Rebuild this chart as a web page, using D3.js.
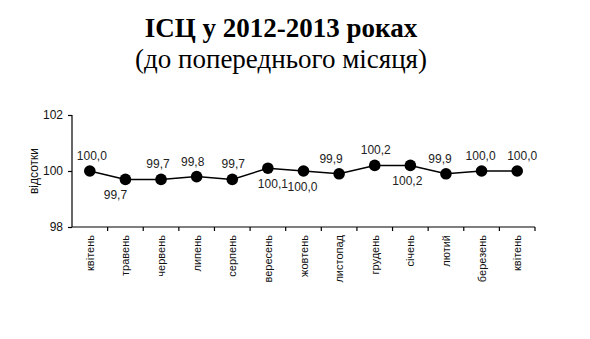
<!DOCTYPE html>
<html>
<head>
<meta charset="utf-8">
<script src="https://cdn.jsdelivr.net/npm/d3@7"></script>
<style>
  html, body { margin: 0; padding: 0; background: #fff; }
  svg { display: block; }
</style>
</head>
<body>
<svg id="chart" width="590" height="339"></svg>
<script>
// Monthly CPI, April 2012 – April 2013 (previous month = 100)
const months = ["квітень", "травень", "червень", "липень", "серпень", "вересень",
  "жовтень", "листопад", "грудень", "січень", "лютий", "березень", "квітень"];
const cpi = [100.0, 99.7, 99.7, 99.8, 99.7, 100.1, 100.0, 99.9, 100.2, 100.2, 99.9, 100.0, 100.0];
const yTicks = [98, 100, 102];
// where each value label sits relative to its marker
const labelSide = ["above", "below", "above", "above", "above", "below", "below",
  "above", "above", "below", "above", "above", "above"];
const labelNudge = [2, -10, -3, -4, 1, 5, -1, -8, 1, -3, -6, -1, 5];

const svg = d3.select("#chart");
const margin = { left: 72, right: 55, top: 115, bottom: 112 };
const W = 590, H = 339;

const x = d3.scaleBand().domain(d3.range(months.length))
  .range([margin.left, W - margin.right]).padding(0);
const y = d3.scaleLinear().domain([98, 102]).range([H - margin.bottom, margin.top]);

// Title
svg.append("text")
  .attr("x", 281).attr("y", 37)
  .attr("text-anchor", "middle")
  .attr("font-family", "'Liberation Serif', 'Times New Roman', serif")
  .attr("font-weight", "bold").attr("font-size", 27)
  .text("ІСЦ у 2012-2013 роках");
svg.append("text")
  .attr("x", 281).attr("y", 68)
  .attr("text-anchor", "middle")
  .attr("font-family", "'Liberation Serif', 'Times New Roman', serif")
  .attr("font-size", 27)
  .text("(до попереднього місяця)");

const axisFont = "'Liberation Sans', Arial, sans-serif";

// Y axis
const yAxis = svg.append("g")
  .attr("transform", `translate(${margin.left},0)`)
  .call(d3.axisLeft(y).tickValues(yTicks).tickSize(4).tickPadding(5).tickFormat(d3.format("d")));
yAxis.select(".domain").attr("stroke", "#000").attr("stroke-width", 1.2)
  .attr("d", `M0,${y(98)}V${y(102)}`);
yAxis.selectAll(".tick line").attr("stroke", "#000").attr("stroke-width", 1.2);
yAxis.selectAll(".tick text").attr("font-family", axisFont).attr("font-size", 12).attr("fill", "#111");

// Y axis title
svg.append("text")
  .attr("transform", `translate(38,${(y(98) + y(102)) / 2}) rotate(-90)`)
  .attr("text-anchor", "middle")
  .attr("font-family", axisFont).attr("font-size", 12).attr("fill", "#111")
  .text("відсотки");

// X axis: ticks at category boundaries
const xAxisG = svg.append("g").attr("transform", `translate(0,${y(98)})`);
xAxisG.append("line")
  .attr("x1", margin.left).attr("x2", W - margin.right)
  .attr("stroke", "#000").attr("stroke-width", 1.2);
const boundaries = d3.range(months.length + 1).map(i =>
  i < months.length ? x(i) : x(months.length - 1) + x.bandwidth());
xAxisG.selectAll("line.tk").data(boundaries.slice(1)).join("line")
  .attr("class", "tk")
  .attr("x1", d => d).attr("x2", d => d)
  .attr("y1", 0).attr("y2", 4)
  .attr("stroke", "#000").attr("stroke-width", 1.2);
xAxisG.selectAll("text").data(months).join("text")
  .attr("transform", (d, i) => `translate(${x(i) + x.bandwidth() / 2 + 4},8) rotate(-90)`)
  .attr("text-anchor", "end")
  .attr("font-family", axisFont).attr("font-size", 11).attr("fill", "#111")
  .text(d => d);

// Line
const cx = i => x(i) + x.bandwidth() / 2;
svg.append("path")
  .datum(cpi)
  .attr("fill", "none").attr("stroke", "#000").attr("stroke-width", 1.5)
  .attr("d", d3.line().x((d, i) => cx(i)).y(d => y(d)));

// Markers
svg.selectAll("circle.pt").data(cpi).join("circle")
  .attr("class", "pt")
  .attr("cx", (d, i) => cx(i)).attr("cy", d => y(d)).attr("r", 5.8)
  .attr("fill", "#000");

// Value labels
const fmt = v => v.toFixed(1).replace(".", ",");
svg.selectAll("text.val").data(cpi).join("text")
  .attr("class", "val")
  .attr("x", (d, i) => cx(i) + labelNudge[i])
  .attr("y", (d, i) => labelSide[i] === "above" ? y(d) - 11 : y(d) + 20)
  .attr("text-anchor", "middle")
  .attr("font-family", axisFont).attr("font-size", 12).attr("fill", "#222")
  .text(d => fmt(d));
</script>
</body>
</html>
